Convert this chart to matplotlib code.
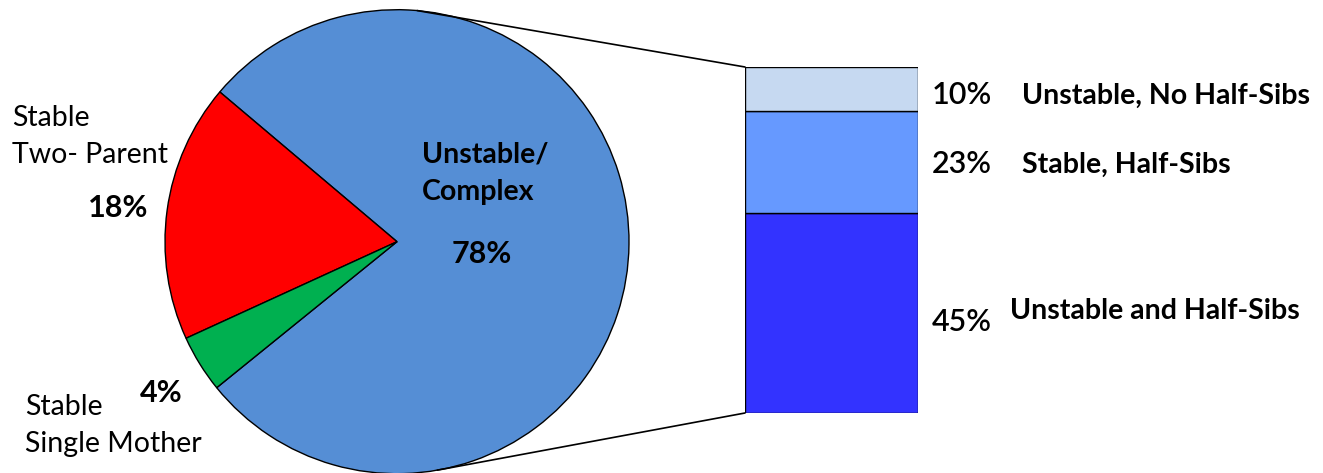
import matplotlib.pyplot as plt
from matplotlib.patches import ConnectionPatch
import numpy as np

# pie: household structure
pie_labels = ["Unstable/\nComplex", "Stable\nTwo- Parent", "Stable\nSingle Mother"]
pie_values = [78, 18, 4]
pie_colors = ["#558ED5", "#FF0000", "#00B050"]

# breakdown of the unstable/complex share
bar_labels = ["Unstable and Half-Sibs", "Stable, Half-Sibs", "Unstable, No Half-Sibs"]
bar_values = [45, 23, 10]
bar_colors = ["#3333FF", "#6699FF", "#C6D9F1"]

W, H = 1323, 473
plt.rcParams['font.family'] = ['Lato', 'DejaVu Sans']

fig = plt.figure(figsize=(W / 100, H / 100), dpi=100)
ax = fig.add_axes([0, 0, 1, 1])

cx, cy, r = 397, H - 241.7, 232
wedges, _ = ax.pie(pie_values, colors=pie_colors, startangle=219, counterclock=True,
                   center=(cx, cy), radius=r,
                   wedgeprops=dict(edgecolor="black", linewidth=1))
ax.set_xlim(0, W)
ax.set_ylim(0, H)
ax.set_aspect("equal")
ax.axis("off")

def px(x, y):
    return x, H - y

# pie labels
big = 22
small = 20.5
ax.text(*px(12, 126), "Stable", fontsize=small, va="baseline")
ax.text(*px(12, 163), "Two- Parent", fontsize=small, va="baseline")
ax.text(*px(88, 217), f"{pie_values[1]}%", fontsize=big, fontweight="bold", va="baseline")
ax.text(*px(25, 415), "Stable", fontsize=small, va="baseline")
ax.text(*px(25, 452), "Single Mother", fontsize=small, va="baseline")
ax.text(*px(140, 402), f"{pie_values[2]}%", fontsize=big, fontweight="bold", va="baseline")
ax.text(*px(422, 162), "Unstable/", fontsize=small, fontweight="bold", va="baseline")
ax.text(*px(422, 200), "Complex", fontsize=small, fontweight="bold", va="baseline")
ax.text(*px(452, 263), f"{pie_values[0]}%", fontsize=big, fontweight="bold", va="baseline")

# stacked bar
bx0, bx1, by0, by1 = 745, 918, 413, 67
bax = fig.add_axes([bx0 / W, (H - by0) / H, (bx1 - bx0) / W, (by0 - by1) / H])
bottom = 0
for v, c in zip(bar_values, bar_colors):
    bax.bar(0, v, width=1, bottom=bottom, color=c, edgecolor="black", linewidth=1)
    bottom += v
bax.set_xlim(-0.5, 0.5)
bax.set_ylim(0, sum(bar_values))
bax.axis("off")

# value / description labels beside the bar
pct_y = [331, 173, 104]
txt_pos = [(1010, 319), (1022, 173), (1022, 104)]
for v, lab, py, (tx, ty) in zip(bar_values, bar_labels, pct_y, txt_pos):
    ax.text(*px(932, py), f"{v}%", fontsize=big, fontweight="semibold", va="baseline")
    ax.text(*px(tx, ty), lab, fontsize=small, fontweight="bold", va="baseline")

# connector lines between pie and bar
total = sum(bar_values)
for ang, yb in [(85, total), (-80, 0)]:
    a = np.deg2rad(ang)
    p = (cx + r * np.cos(a), cy + r * np.sin(a))
    con = ConnectionPatch(xyA=(-0.5, yb), coordsA=bax.transData,
                          xyB=p, coordsB=ax.transData, color="black", linewidth=1.2)
    fig.add_artist(con)

fig.savefig("out.png", dpi=100, facecolor="white")
